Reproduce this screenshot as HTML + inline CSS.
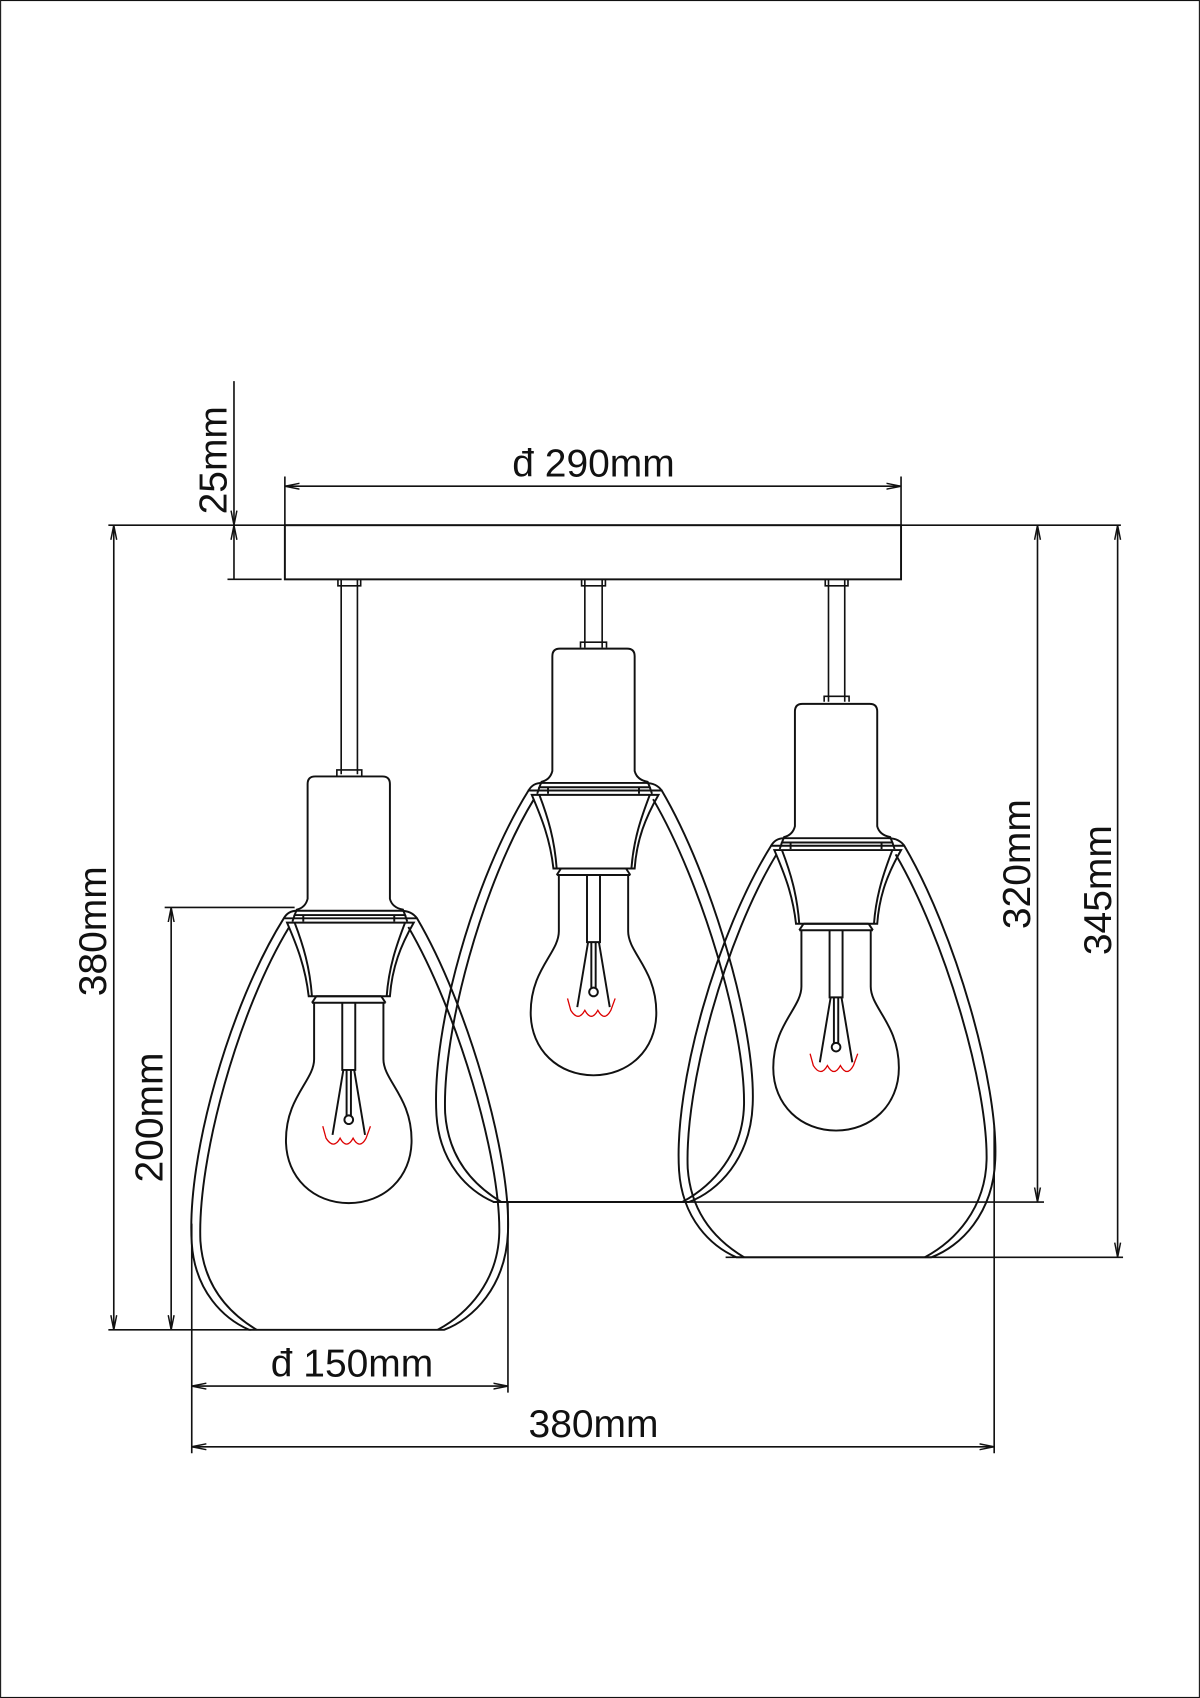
<!DOCTYPE html>
<html><head><meta charset="utf-8"><style>
html,body{margin:0;padding:0;background:#fff;}
svg{display:block;}
text{font-family:"Liberation Sans",sans-serif;font-size:36px;fill:#111;}
</style></head><body>
<svg width="1200" height="1698" viewBox="0 0 1108 1568" xmlns="http://www.w3.org/2000/svg">
<defs>
<marker id="a" viewBox="0 0 10 10" refX="10" refY="5" markerWidth="9" markerHeight="9" orient="auto-start-reverse"><path d="M0,3 L10,5 L0,7" fill="none" stroke="#111" stroke-width="1"/></marker>
<g id="lamp" fill="none" stroke="#111" stroke-width="1.8">
  <path d="M-38,-18 L-38,-124 Q-38,-131 -31,-131 L31,-131 Q38,-131 38,-124 L38,-18 Q40,-10 50,-8 L52,-3 L-50,-3 L-48,-8 Q-40,-10 -38,-18 Z"/>
  <path d="M-50,-3 L-52,3 M52,-3 L54,3 M-42,-3 L-42,3 M42,-3 L42,3"/>
  <path d="M-60,0 C-110,80 -150,220 -145,300 C-142,345 -115,370 -92,380 L88,380 C115,370 145,340 147,290 C150,220 110,80 63,0 Z" />
  <path d="M-55,8 C-102,85 -140,222 -137,298 C-134,340 -110,365 -85,380 M55,8 C100,85 140,220 139,290 C138,335 110,365 82,380"/>
  <path d="M-60,0 Q-56,-7 -48,-7 L48,-7 Q58,-7 63,0"/>
  <path d="M-57,4 L60,4 C48,25 40,45 38,72 L-37,72 C-40,45 -48,25 -57,4 Z"/>
  <path d="M-50,4 C-42,25 -36,45 -34,72 M52,4 C44,25 37,45 35,72"/>
  <path d="M-30,72 L30,72 M-32,78 L-32,130 C-32,150 -58,165 -58,205 C-58,240 -32,263 0,263 C32,263 58,240 58,205 C58,165 32,150 32,130 L32,78 M-34,78 L34,78 M-30,72 L-34,78 M30,72 L34,78"/>
  <path d="M-6,78 L-6,140 L6,140 L6,78 M-5,140 L-15,200 M5,140 L15,200 M-2,140 L-2,183 M2,140 L2,183"/>
  <circle cx="0" cy="186" r="4"/>
  <path d="M-24,192 L-21,203 Q-14,214 -8,203 Q-2,214 4,203 Q10,214 16,203 L20,192" stroke="#d00" stroke-width="1.2"/>
</g>
</defs>
<rect x="0.5" y="0.5" width="1107" height="1567" fill="none" stroke="#111" stroke-width="1"/>
<g fill="none" stroke="#111" stroke-width="1.5">
  <rect x="263" y="485" width="569" height="50" stroke-width="1.8"/>
  <path d="M100,485 L1035,485"/>
  <path d="M315,535 L315,715 M330,535 L330,715 M312,535 L312,541 L333,541 L333,535 M311,717 L311,711 L334,711 L334,717"/>
  <path d="M540,535 L540,598 M556,535 L556,598 M537,535 L537,541 L559,541 L559,535 M536,598 L536,593 L560,593 L560,598"/>
  <path d="M765,535 L765,648 M780,535 L780,648 M762,535 L762,541 L783,541 L783,535 M761,648 L761,643 L784,643 L784,648"/>
  <path d="M263,449 L832,449" marker-start="url(#a)" marker-end="url(#a)"/>
  <path d="M263,440 L263,485 M832,440 L832,485"/>
  <path d="M216,352 L216,485" marker-end="url(#a)"/>
  <path d="M216,485 L216,535" marker-start="url(#a)"/>
  <path d="M210,535 L260,535"/>
  <path d="M105,485 L105,1228" marker-start="url(#a)" marker-end="url(#a)"/>
  <path d="M158,838 L158,1228" marker-start="url(#a)" marker-end="url(#a)"/>
  <path d="M152,838 L272,838 M100,1228 L232,1228"/>
  <path d="M177,1280 L469,1280" marker-start="url(#a)" marker-end="url(#a)"/>
  <path d="M177,1336 L918,1336" marker-start="url(#a)" marker-end="url(#a)"/>
  <path d="M177,1130 L177,1342 M469,1110 L469,1286 M918,1040 L918,1342"/>
  <path d="M958,485 L958,1110" marker-start="url(#a)" marker-end="url(#a)"/>
  <path d="M1032,485 L1032,1161" marker-start="url(#a)" marker-end="url(#a)"/>
  <path d="M455,1110 L964,1110 M670,1161 L1037,1161"/>
</g>
<use href="#lamp" transform="translate(322,848)"/>
<use href="#lamp" transform="translate(548,730)"/>
<use href="#lamp" transform="translate(772,781)"/>
<text x="548" y="440" text-anchor="middle">đ 290mm</text>
<text transform="translate(209,425) rotate(-90)" text-anchor="middle">25mm</text>
<text transform="translate(98,860) rotate(-90)" text-anchor="middle">380mm</text>
<text transform="translate(150,1032) rotate(-90)" text-anchor="middle">200mm</text>
<text transform="translate(951,798) rotate(-90)" text-anchor="middle">320mm</text>
<text transform="translate(1026,822) rotate(-90)" text-anchor="middle">345mm</text>
<text x="325" y="1271" text-anchor="middle">đ 150mm</text>
<text x="548" y="1327" text-anchor="middle">380mm</text>
</svg>
</body></html>
